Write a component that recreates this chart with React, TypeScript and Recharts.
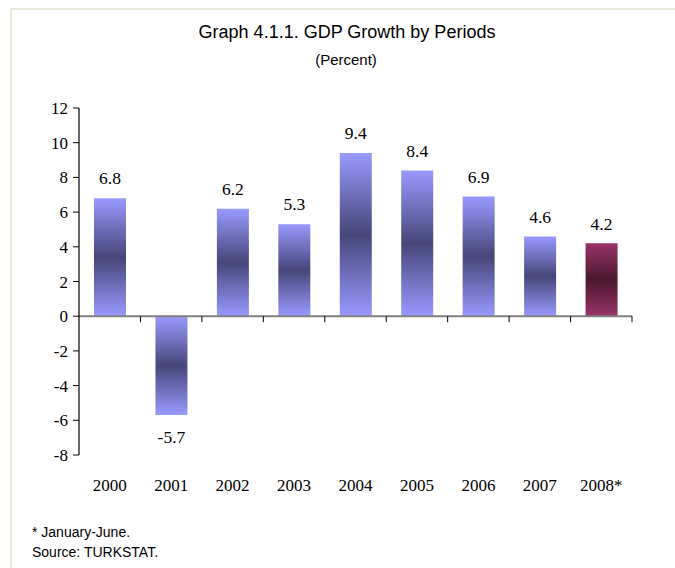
import React from 'react';
import { BarChart, Bar, XAxis, YAxis, ReferenceLine, Cell, LabelList } from 'recharts';

// GDP growth, percent
const years = ['2000', '2001', '2002', '2003', '2004', '2005', '2006', '2007', '2008*'];
const growth = [6.8, -5.7, 6.2, 5.3, 9.4, 8.4, 6.9, 4.6, 4.2];
const yTicks = [-8, -6, -4, -2, 0, 2, 4, 6, 8, 10, 12];
const partialYears = ['2008*'];

const data = years.map((year, i) => ({ year, growth: growth[i] }));

const W = 675;
const H = 568;
const margin = { top: 108, right: 43, bottom: 73, left: 29 };
const Y_AXIS_W = 50;
const X_AXIS_H = 40;
const plotH = H - margin.top - margin.bottom - X_AXIS_H;
const plotW = W - margin.left - margin.right - Y_AXIS_W;
const yMin = yTicks[0];
const yMax = yTicks[yTicks.length - 1];
const zeroY = margin.top + (plotH * yMax) / (yMax - yMin);

const serif = '"Liberation Serif", "Times New Roman", serif';
const sans = '"Liberation Sans", Arial, sans-serif';

const XTick = (props: any) => {
  const { x, y, payload } = props;
  const half = typeof payload.offset === 'number' && payload.offset > 0 ? payload.offset : plotW / years.length / 2;
  return (
    <g>
      <line x1={x + half} x2={x + half} y1={zeroY} y2={zeroY + 6} stroke="#000" strokeWidth={1} />
      <text x={x} y={y + 28} textAnchor="middle" fontFamily={serif} fontSize={17} fill="#000">
        {payload.value}
      </text>
    </g>
  );
};

const ValueLabel = (props: any) => {
  const { x, y, width, height, value } = props;
  const top = Math.min(y, y + height);
  const bottom = Math.max(y, y + height);
  const ty = value >= 0 ? top - 20 : bottom + 22;
  return (
    <text x={x + width / 2} y={ty} dy="0.355em" textAnchor="middle" fontFamily={serif} fontSize={17.5} fill="#000">
      {value.toFixed(1)}
    </text>
  );
};

export default function App() {
  return (
    <div style={{ position: 'absolute', left: 0, top: 0, width: W, height: H, background: '#fff', fontFamily: sans }}>
      <div
        style={{
          position: 'absolute', left: 10, top: 8, right: 0, bottom: 0,
          borderTop: '2px solid #ECE9D8', borderLeft: '2px solid #ECE9D8',
        }}
      />
      <div style={{ position: 'absolute', left: 347, top: 22, transform: 'translateX(-50%)', whiteSpace: 'nowrap', fontSize: 18, lineHeight: '20px', color: '#000' }}>
        Graph 4.1.1. GDP Growth by Periods
      </div>
      <div style={{ position: 'absolute', left: 346, top: 51, transform: 'translateX(-50%)', whiteSpace: 'nowrap', fontSize: 15, lineHeight: '18px', color: '#000' }}>
        (Percent)
      </div>

      <BarChart width={W} height={H} data={data} margin={margin} style={{ position: 'absolute', left: 0, top: 0 }}>
        <defs>
          <linearGradient id="blueBar" x1="0" y1="0" x2="0" y2="1">
            <stop offset="0%" stopColor="#9999FF" />
            <stop offset="50%" stopColor="#46467A" />
            <stop offset="100%" stopColor="#9999FF" />
          </linearGradient>
          <linearGradient id="maroonBar" x1="0" y1="0" x2="0" y2="1">
            <stop offset="0%" stopColor="#993366" />
            <stop offset="50%" stopColor="#4A1830" />
            <stop offset="100%" stopColor="#993366" />
          </linearGradient>
        </defs>
        <XAxis
          dataKey="year"
          height={X_AXIS_H}
          axisLine={false}
          tickLine={false}
          tick={<XTick />}
          interval={0}
        />
        <YAxis
          width={Y_AXIS_W}
          domain={[yMin, yMax]}
          ticks={yTicks}
          interval={0}
          axisLine={{ stroke: '#000', strokeWidth: 1.2 }}
          tickLine={{ stroke: '#000' }}
          tickSize={6}
          tickMargin={5}
          tick={{ fill: '#000', fontFamily: serif, fontSize: 17 }}
        />
        <ReferenceLine y={0} stroke="#808080" strokeWidth={2} />
        <Bar dataKey="growth" barSize={32} isAnimationActive={false}>
          {data.map((d) => (
            <Cell key={d.year} fill={partialYears.includes(d.year) ? 'url(#maroonBar)' : 'url(#blueBar)'} />
          ))}
          <LabelList dataKey="growth" content={<ValueLabel />} />
        </Bar>
      </BarChart>

      <div style={{ position: 'absolute', left: 32, top: 522, fontSize: 14, lineHeight: '20px', color: '#000' }}>
        * January-June.
        <br />
        Source: TURKSTAT.
      </div>
    </div>
  );
}
